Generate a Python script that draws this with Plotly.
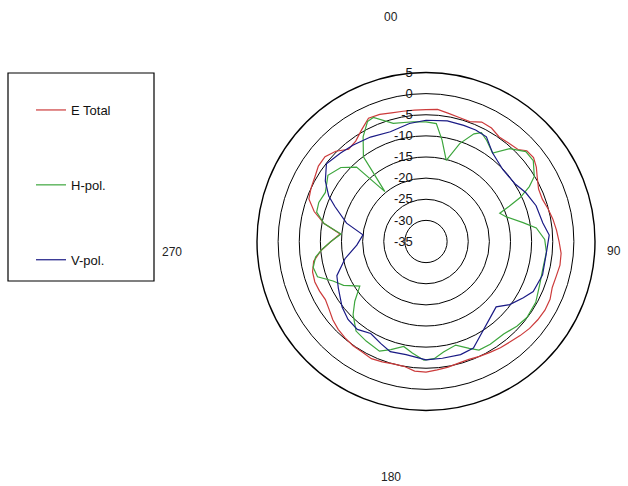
import plotly.graph_objects as go

# ---- data (degrees clockwise from top, dB) ----
e_theta = [0, 5, 10, 15, 20, 25, 30, 35, 40, 45, 48, 52, 56, 60, 65, 70, 75, 80, 85, 90,
           95, 100, 105, 110, 115, 120, 125, 130, 135, 140, 145, 150, 155, 160, 165, 170, 175, 180,
           185, 190, 195, 200, 205, 210, 215, 220, 225, 230, 235, 240, 245, 250, 255, 260, 265, 270,
           275, 280, 285, 290, 295, 300, 305, 310, 315, 320, 325, 330, 335, 340, 345, 350, 355, 360]
e_total = [-3.8, -3.6, -4.2, -4.6, -4.8, -3.8, -4.0, -4.8, -4.6, -4.2, -2.9, -2.7, -3.5, -4.6, -5.6, -5.7, -5.1, -4.5, -4.0, -3.5,
           -2.9, -2.8, -3.1, -3.2, -2.6, -2.5, -2.7, -3.0, -3.5, -4.0, -4.3, -4.7, -5.0, -5.3, -5.2, -4.8, -4.5, -4.1,
           -4.2, -5.0, -5.0, -4.7, -4.4, -4.8, -4.9, -5.2, -5.6, -6.2, -7.0, -7.5, -7.2, -7.0, -7.2, -8.0, -10.0, -12.5,
           -14.6, -10.5, -7.6, -5.5, -5.0, -4.6, -3.9, -3.8, -4.8, -6.5, -6.0, -4.5, -2.8, -3.0, -3.5, -3.7, -3.8, -3.8]

h_theta = [0, 5, 9, 14, 19, 24, 27, 31, 37, 42, 48, 53, 59, 62, 65, 67, 69, 73, 79, 83, 89,
           95, 103, 111, 119, 127, 133, 140, 148, 154, 158, 164, 171, 176, 181, 187, 192, 198, 203,
           211, 218, 225, 230, 236, 242, 247, 252, 257, 262, 266, 270, 275, 280, 285, 290, 296, 304,
           311, 317, 320.5, 322.5, 323.5, 329, 334, 337, 344.5, 354, 360]
h_pol = [-6.7, -7.0, -10.7, -15.2, -10.5, -7.1, -6.1, -7.1, -8.8, -5.4, -3.2, -3.2, -5.1, -7.3, -10.4, -13.6, -16.3, -15.1, -11.6, -8.7, -6.9,
         -6.4, -6.6, -6.2, -5.3, -5.1, -5.6, -6.4, -6.3, -6.4, -7.7, -9.5, -8.5, -7.2, -6.9, -8.4, -9.6, -8.1, -6.8,
         -7.5, -8.1, -10.6, -13.0, -16.1, -12.9, -11.1, -8.0, -7.6, -8.6, -10.5, -12.5, -14.8, -10.5, -8.2, -8.0, -8.5, -7.0,
         -8.3, -10.9, -19.7, -14.6, -10.1, -6.1, -3.4, -3.1, -6.0, -6.5, -6.7]

v_theta = [0, 10, 18, 24, 30, 37, 47, 57, 64, 72, 81, 87, 96, 106, 115, 120, 127, 133, 140, 148,
           156, 163, 172, 180, 190, 198, 204, 211, 218, 225, 232, 242, 249, 258, 267, 276, 283, 291,
           295, 301, 308, 316, 323, 332, 342, 352, 360]
v_pol = [-6.3, -6.0, -6.1, -6.1, -6.4, -8.8, -10.1, -9.9, -8.7, -7.6, -7.0, -5.8, -6.4, -6.3, -7.0, -8.4, -10.2, -12.3, -11.4, -9.8,
         -7.4, -7.0, -7.1, -7.0, -7.8, -7.6, -8.6, -9.6, -8.6, -8.9, -9.8, -11.5, -12.4, -15.4, -18.6, -20.0, -15.7, -11.9,
         -9.6, -7.2, -5.1, -5.9, -6.4, -7.0, -7.7, -6.8, -6.3]

r_ticks = [-35, -30, -25, -20, -15, -10, -5, 0, 5]
r_ticktext = ["-35", "-30", "-25", "-20", "-15", "-10", "-5", "0", "5"]
angle_labels = ["00", "90", "180", "270"]

W, H = 628, 486
cx, cy, R = 426, 241.5, 169

font_main = "Liberation Sans, Arial, sans-serif"
pad = "\u00a0\u00a0\u00a0"

fig = go.Figure()
fig.add_trace(go.Scatterpolar(theta=e_theta, r=e_total, mode="lines", name="E Total",
                              line=dict(color="#cc3b3b", width=1.2), legendgroup="a"))
fig.add_trace(go.Scatterpolar(theta=h_theta, r=h_pol, mode="lines", name="H-pol.",
                              line=dict(color="#3da63d", width=1.2), legendgroup="b"))
fig.add_trace(go.Scatterpolar(theta=v_theta, r=v_pol, mode="lines", name="V-pol.",
                              line=dict(color="#1a1a85", width=1.2), legendgroup="c"))

fig.update_layout(
    width=W, height=H,
    margin=dict(l=0, r=0, t=0, b=0),
    paper_bgcolor="white",
    plot_bgcolor="white",
    font=dict(family=font_main, size=12, color="#111"),
    polar=dict(
        domain=dict(x=[(cx - R) / W, (cx + R) / W], y=[(H - cy - R) / H, (H - cy + R) / H]),
        bgcolor="white",
        radialaxis=dict(range=[-35, 5], tickvals=r_ticks,
                        ticktext=[t + pad for t in r_ticktext],
                        angle=90, tickangle=90, side="counterclockwise",
                        showline=False, ticks="", showgrid=True,
                        gridcolor="black", gridwidth=1.4,
                        tickfont=dict(size=13, color="#111", family=font_main)),
        angularaxis=dict(direction="clockwise", rotation=90, showgrid=False,
                         showticklabels=False, ticks="", showline=True,
                         linecolor="black", linewidth=1.4),
    ),
    showlegend=True,
    legend=dict(x=31 / W, y=1 - 95 / H, xanchor="left", yanchor="top",
                bgcolor="rgba(0,0,0,0)", borderwidth=0, tracegroupgap=55,
                itemwidth=30, font=dict(size=13, color="#111", family=font_main)),
    shapes=[dict(type="rect", xref="paper", yref="paper",
                 x0=8 / W, x1=154 / W, y0=1 - 281 / H, y1=1 - 73 / H,
                 line=dict(color="black", width=1.2), fillcolor="rgba(0,0,0,0)")],
)

label_pos = [(391, 17), (614, 251), (391, 477), (172, 252)]
for txt, (px, py) in zip(angle_labels, label_pos):
    fig.add_annotation(x=px / W, y=1 - py / H, xref="paper", yref="paper",
                       text=txt, showarrow=False, xanchor="center", yanchor="middle",
                       font=dict(size=12, color="#222", family=font_main))

fig.write_html("out.html", config={"displayModeBar": False},
               post_script="document.body.style.margin='0';document.body.style.overflow='hidden';")
